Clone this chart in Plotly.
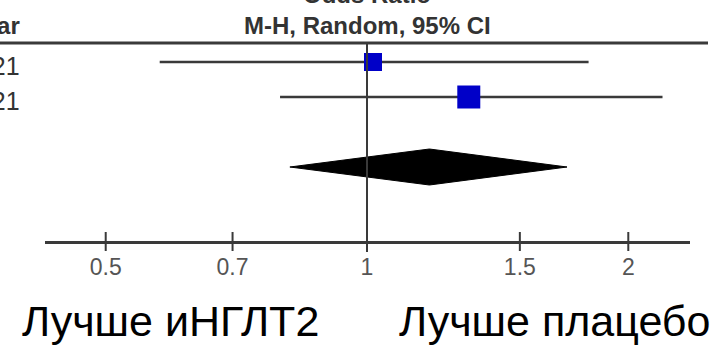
import plotly.graph_objects as go

# ---- data ----
study_labels = ["2021", "2021"]
study_or = [1.016, 1.31]
study_lo = [0.577, 0.794]
study_hi = [1.80, 2.19]
study_size = [18, 23]
pooled_or = 1.18
pooled_lo = 0.815
pooled_hi = 1.70
tick_vals = [0.5, 0.7, 1, 1.5, 2]
tick_text = ["0.5", "0.7", "1", "1.5", "2"]
header_top = "Odds Ratio"
header_sub = "M-H, Random, 95% CI"
left_header = "Year"
favours_left = "Лучше иНГЛТ2"
favours_right = "Лучше плацебо"

W, H = 721, 348
# layout geometry (pixels)
X0PX, X1PX = 45, 690
def px_to_log(px):
    return (px - 367) / 868.0

ROW0, ROWH = 62, 35
def py(px):  # pixel y -> row units
    return (px - ROW0) / ROWH

study_rows = [0, 1]
pooled_row = py(167)
axis_y_paper = 1 - 242 / H

SANS = "Liberation Sans, Arial, sans-serif"
LINEC = "#3a3a3a"

fig = go.Figure()

# CI lines
for i in range(len(study_or)):
    fig.add_trace(go.Scatter(
        x=[study_lo[i], study_hi[i]], y=[study_rows[i], study_rows[i]],
        mode="lines", line=dict(color=LINEC, width=2.5), hoverinfo="skip",
        showlegend=False))
# squares
fig.add_trace(go.Scatter(
    x=study_or, y=study_rows, mode="markers",
    marker=dict(symbol="square", size=study_size, color="#0000C8", opacity=1,
                line=dict(width=0)),
    opacity=1, showlegend=False))
# diamond
dh = 18 / ROWH
fig.add_trace(go.Scatter(
    x=[pooled_lo, pooled_or, pooled_hi, pooled_or, pooled_lo],
    y=[pooled_row, pooled_row - dh, pooled_row, pooled_row + dh, pooled_row],
    mode="lines", fill="toself", fillcolor="black",
    line=dict(color="black", width=1), showlegend=False))

shapes = []
# top header line
shapes.append(dict(type="line", xref="paper", yref="paper",
                   x0=0, x1=708 / W, y0=1 - 43 / H, y1=1 - 43 / H,
                   line=dict(color=LINEC, width=3)))
# line of no effect
shapes.append(dict(type="line", xref="x", yref="paper",
                   x0=1, x1=1, y0=1 - 43 / H, y1=1 - 252 / H,
                   line=dict(color=LINEC, width=2)))
# ticks crossing the axis
for t in tick_vals:
    shapes.append(dict(type="line", xref="x", yref="paper",
                       x0=t, x1=t, y0=1 - 232 / H, y1=1 - 251 / H,
                       line=dict(color=LINEC, width=2)))

annotations = []
annotations.append(dict(text="<b>" + header_top + "</b>", x=367 / W, y=1 + 5 / H,
                        xref="paper", yref="paper",
                        showarrow=False, xanchor="center", yanchor="middle",
                        font=dict(family=SANS, size=24, color="#333")))
annotations.append(dict(text="<b>" + header_sub + "</b>", x=367 / W, y=1 - 26 / H,
                        xref="paper", yref="paper", showarrow=False,
                        xanchor="center", yanchor="middle",
                        font=dict(family=SANS, size=24, color="#333")))
annotations.append(dict(text="<b>" + left_header + "</b>", x=22 / W, y=1 - 26 / H,
                        xref="paper", yref="paper", showarrow=False,
                        xanchor="right", yanchor="middle",
                        font=dict(family=SANS, size=24, color="#333")))
for i, lab in enumerate(study_labels):
    annotations.append(dict(text=lab, x=22 / W, y=study_rows[i] + 4 / ROWH,
                            xref="paper", yref="y",
                            showarrow=False, xanchor="right", yanchor="middle",
                            font=dict(family=SANS, size=25, color="#333")))
annotations.append(dict(text=favours_left, x=20 / W, y=1 - 321 / H, xref="paper",
                        yref="paper", showarrow=False, xanchor="left", yanchor="middle",
                        font=dict(family=SANS, size=43, color="black")))
annotations.append(dict(text=favours_right, x=712 / W, y=1 - 321 / H, xref="paper",
                        yref="paper", showarrow=False, xanchor="right", yanchor="middle",
                        font=dict(family=SANS, size=43, color="black")))

fig.update_layout(
    width=W, height=H, margin=dict(l=0, r=0, t=0, b=0),
    paper_bgcolor="white", plot_bgcolor="white",
    shapes=shapes, annotations=annotations,
    xaxis=dict(type="log", domain=[X0PX / W, X1PX / W],
               range=[px_to_log(X0PX), px_to_log(X1PX)],
               anchor="free", position=axis_y_paper,
               showline=True, linecolor=LINEC, linewidth=3,
               showgrid=False, zeroline=False, ticks="",
               tickvals=tick_vals, ticktext=tick_text,
               tickfont=dict(family=SANS, size=23, color="#555"),
               ticklabelstandoff=3),
    yaxis=dict(range=[py(H), py(0)], visible=False, showgrid=False, zeroline=False),
)

fig.write_html("out.html")
